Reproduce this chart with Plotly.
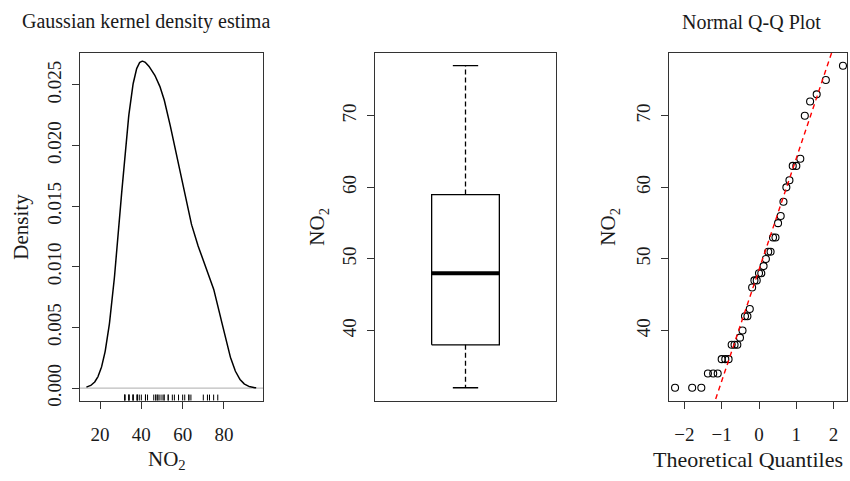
import numpy as np
import plotly.graph_objects as go
from statistics import NormalDist

# ---------------- data ----------------
no2 = [32, 32, 32, 34, 34, 34, 36, 36, 36, 38, 38, 38, 39, 40, 42, 42, 43,
       46, 47, 47, 48, 48, 49, 50, 51, 51, 53, 53, 55, 56, 58, 60, 61, 63,
       63, 64, 70, 72, 73, 75, 77]
box_lower = [32]
box_q1 = [38]
box_median = [48]
box_q3 = [59]
box_upper = [77]
qq_quartiles = [38, 59]
kde_bandwidth = 6.2
density_xticks = [20, 40, 60, 80]
density_yticks = [0.0, 0.005, 0.010, 0.015, 0.020, 0.025]
no2_ticks = [40, 50, 60, 70]
qq_xticks = [-2, -1, 0, 1, 2]

# ---------------- derived ----------------
x = np.array(no2, dtype=float)
n = len(x)
grid = np.linspace(x.min() - 3 * kde_bandwidth, x.max() + 3 * kde_bandwidth, 512)
z = (grid[:, None] - x[None, :]) / kde_bandwidth
dens = np.exp(-0.5 * z ** 2).sum(axis=1) / (n * kde_bandwidth * np.sqrt(2 * np.pi))

nd = NormalDist()
a = 3 / 8 if n <= 10 else 0.5
theo = [nd.inv_cdf((i - a) / (n + 1 - 2 * a)) for i in range(1, n + 1)]
samp = sorted(no2)
xq1, xq3 = nd.inv_cdf(0.25), nd.inv_cdf(0.75)
slope = (qq_quartiles[1] - qq_quartiles[0]) / (xq3 - xq1)
intercept = qq_quartiles[0] - slope * xq1
qx = [-3.0, 3.0]
qy = [intercept + slope * v for v in qx]

# ---------------- style ----------------
FONT = "Liberation Serif"
INK = "#1a1a1a"
AX = "#333333"
TICK_FS = 19
LAB_FS = 21

dens_yrange = [-0.001034, 0.027646]
no2_range = [30.2, 78.8]

fig = go.Figure()

# Panel 1: density
fig.add_trace(go.Scatter(x=[grid[0] - 20, grid[-1] + 20], y=[0, 0], mode="lines",
                         line=dict(color="#bdbdbd", width=1.2), xaxis="x", yaxis="y",
                         hoverinfo="skip"))
fig.add_trace(go.Scatter(x=grid, y=dens, mode="lines",
                         line=dict(color="black", width=1.5), xaxis="x", yaxis="y"))
rug_x, rug_y = [], []
rug_top = dens_yrange[0] + 0.0005
for v in no2:
    rug_x += [v, v, None]
    rug_y += [dens_yrange[0], rug_top, None]
fig.add_trace(go.Scatter(x=rug_x, y=rug_y, mode="lines",
                         line=dict(color="black", width=1), xaxis="x", yaxis="y",
                         hoverinfo="skip"))

# Panel 2: boxplot (drawn R style)
bc, bh, ch = 1.0, 0.187, 0.07
fig.add_trace(go.Scatter(x=[bc, bc, None, bc, bc], y=[box_q3[0], box_upper[0], None, box_q1[0], box_lower[0]],
                         mode="lines", line=dict(color="black", width=1.3, dash="5px,3px"),
                         xaxis="x2", yaxis="y2"))
fig.add_trace(go.Scatter(x=[bc - ch, bc + ch, None, bc - ch, bc + ch],
                         y=[box_upper[0], box_upper[0], None, box_lower[0], box_lower[0]],
                         mode="lines", line=dict(color="black", width=1.3),
                         xaxis="x2", yaxis="y2"))
fig.add_trace(go.Scatter(x=[bc - bh, bc + bh, bc + bh, bc - bh, bc - bh],
                         y=[box_q1[0], box_q1[0], box_q3[0], box_q3[0], box_q1[0]],
                         mode="lines", line=dict(color="black", width=1.3),
                         xaxis="x2", yaxis="y2"))
fig.add_trace(go.Scatter(x=[bc - bh, bc + bh], y=[box_median[0], box_median[0]],
                         mode="lines", line=dict(color="black", width=4),
                         xaxis="x2", yaxis="y2"))

# Panel 3: QQ plot
fig.add_trace(go.Scatter(x=theo, y=samp, mode="markers",
                         marker=dict(symbol="circle-open", size=7, color="black",
                                     line=dict(width=1.1, color="black")),
                         xaxis="x3", yaxis="y3"))
fig.add_trace(go.Scatter(x=qx, y=qy, mode="lines",
                         line=dict(color="red", width=1.4, dash="5px,4px"),
                         xaxis="x3", yaxis="y3"))

ydom = [1 - 405.7 / 481, 1 - 53.5 / 481]
common = dict(showline=True, mirror=True, linecolor=AX, linewidth=1.2,
              ticks="outside", ticklen=7, tickwidth=1, tickcolor=AX,
              showgrid=False, zeroline=False,
              tickfont=dict(family=FONT, size=TICK_FS, color=INK))
xcommon = dict(common, ticklabelstandoff=9)
ycommon = dict(common, ticklabelstandoff=3)

fig.update_layout(
    width=850, height=481, margin=dict(l=0, r=0, t=0, b=0),
    paper_bgcolor="white", plot_bgcolor="white", showlegend=False,
    font=dict(family=FONT, color=INK),
    xaxis=dict(domain=[80 / 850, 263 / 850], range=[10.3, 98.9],
               tickvals=density_xticks, anchor="y", **xcommon),
    yaxis=dict(domain=ydom, range=dens_yrange, tickvals=density_yticks,
               tickformat=".3f", tickangle=-90, anchor="x", **ycommon),
    xaxis2=dict(domain=[375 / 850, 556 / 850], range=[0.5, 1.5], anchor="y2",
                showline=True, mirror=True, linecolor=AX, linewidth=1.2,
                showticklabels=False, ticks="", showgrid=False, zeroline=False),
    yaxis2=dict(domain=ydom, range=no2_range, tickvals=no2_ticks, tickangle=-90,
                anchor="x2", **ycommon),
    xaxis3=dict(domain=[669 / 850, 847 / 850], range=[-2.413, 2.359],
                tickvals=qq_xticks, anchor="y3", **xcommon),
    yaxis3=dict(domain=ydom, range=no2_range, tickvals=no2_ticks, tickangle=-90,
                anchor="x3", **ycommon),
)

def px(xp, yp):
    return xp / 850, 1 - yp / 481

annots = [
    dict(text="Gaussian kernel density estima", pos=(20, 22), xanchor="left", size=20, angle=0),
    dict(text="Normal Q-Q Plot", pos=(751, 22), xanchor="center", size=20, angle=0),
    dict(text="Density", pos=(21, 229.5), xanchor="center", size=LAB_FS, angle=-90),
    dict(text="NO<sub>2</sub>", pos=(167, 466), xanchor="center", size=LAB_FS, angle=0),
    dict(text="NO<sub>2</sub>", pos=(318, 229.5), xanchor="center", size=LAB_FS, angle=-90),
    dict(text="NO<sub>2</sub>", pos=(609, 229.5), xanchor="center", size=LAB_FS, angle=-90),
    dict(text="Theoretical Quantiles", pos=(748, 465), xanchor="center", size=22, angle=0),
]
for an in annots:
    ax_, ay_ = px(*an["pos"])
    fig.add_annotation(text=an["text"], x=ax_, y=ay_, xref="paper", yref="paper",
                       xanchor=an["xanchor"], yanchor="middle", showarrow=False,
                       textangle=an["angle"],
                       font=dict(family=FONT, size=an["size"], color=INK))

fig.write_html("out.html")
